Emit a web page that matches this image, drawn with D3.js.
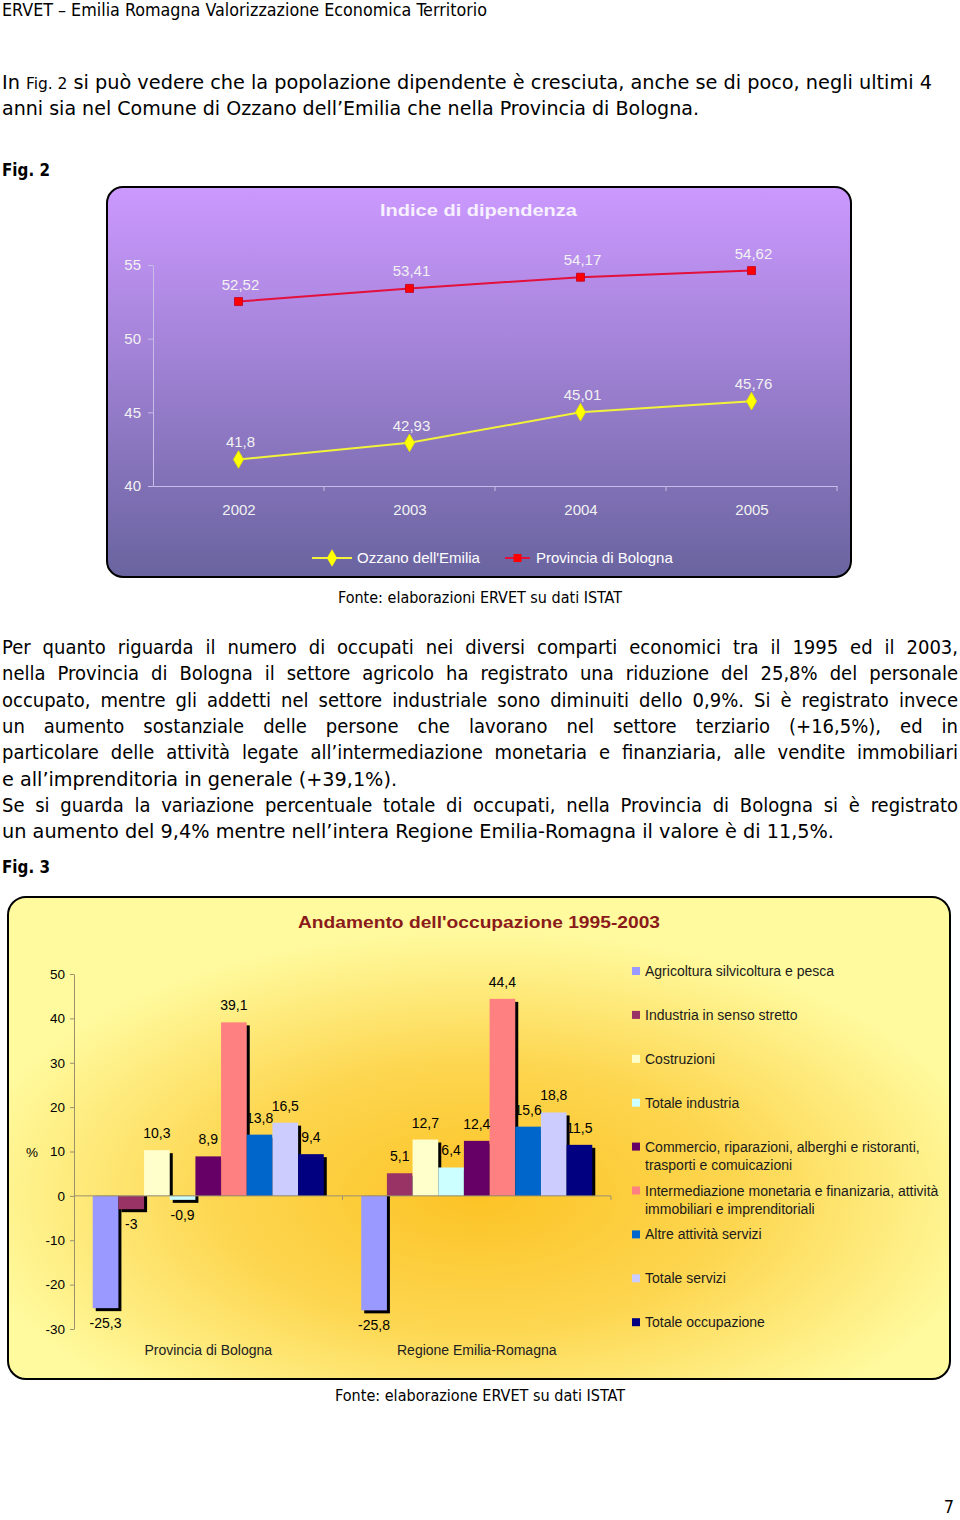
<!DOCTYPE html>
<html>
<head>
<meta charset="utf-8">
<script src="https://cdn.jsdelivr.net/npm/d3@7"></script>
<style>
  body { margin: 0; background: #fff; }
  svg { display: block; }
</style>
</head>
<body>
<div id="page"></div>
<script>
// ---- Fig. 2 data ----
const years = ['2002', '2003', '2004', '2005'];
const ozzano = [41.8, 42.93, 45.01, 45.76];
const provincia = [52.52, 53.41, 54.17, 54.62];
const fig2Ticks = [40, 45, 50, 55];
const fig2Series = ["Ozzano dell'Emilia", 'Provincia di Bologna'];

// ---- Fig. 3 data ----
const areas = ['Provincia di Bologna', 'Regione Emilia-Romagna'];
const sectors = [
  'Agricoltura silvicoltura e pesca',
  'Industria in senso stretto',
  'Costruzioni',
  'Totale industria',
  'Commercio, riparazioni, alberghi e ristoranti,|trasporti e comuicazioni',
  'Intermediazione monetaria e finanizaria, attività|immobiliari e imprenditoriali',
  'Altre attività servizi',
  'Totale servizi',
  'Totale occupazione'
];
const provBologna = [-25.3, -3, 10.3, -0.9, 8.9, 39.1, 13.8, 16.5, 9.4];
const regioneER = [-25.8, 5.1, 12.7, 6.4, 12.4, 44.4, 15.6, 18.8, 11.5];
const sectorColors = ['#9999ff', '#993366', '#ffffcc', '#ccffff', '#660066', '#ff8080', '#0066cc', '#ccccff', '#000080'];
const fig3Ticks = [-30, -20, -10, 0, 10, 20, 30, 40, 50];

// ---- text ----
const header = 'ERVET – Emilia Romagna Valorizzazione Economica Territorio';
const bodyLines = [
  'Per quanto riguarda il numero di occupati nei diversi comparti economici tra il 1995 ed il 2003,',
  'nella Provincia di Bologna il settore agricolo ha registrato una riduzione del 25,8% del personale',
  'occupato, mentre gli addetti nel settore industriale sono diminuiti dello 0,9%. Si è registrato invece',
  'un aumento sostanziale delle persone che lavorano nel settore terziario (+16,5%), ed in',
  'particolare delle attività legate all’intermediazione monetaria e finanziaria, alle vendite immobiliari',
  'e all’imprenditoria in generale (+39,1%).',
  'Se si guarda la variazione percentuale totale di occupati, nella Provincia di Bologna si è registrato',
  'un aumento del 9,4% mentre nell’intera Regione Emilia-Romagna il valore è di 11,5%.'
];

const bodyFont = '"DejaVu Sans Condensed", "DejaVu Sans", sans-serif';
const chartFont = '"Liberation Sans", Arial, sans-serif';
const comma = v => String(v).replace('.', ',');

const svg = d3.select('#page').append('svg')
  .attr('width', 960)
  .attr('height', 1520);

const defs = svg.append('defs');

// write one line of body text, justified or squeezed to the given right edge
function textLine(parts, y, size, end, justify, weight) {
  let t = svg.append('text')
    .attr('x', 2).attr('y', y)
    .attr('font-family', bodyFont)
    .attr('font-stretch', 'condensed')
    .attr('font-size', size)
    .attr('font-weight', weight || 'normal')
    .attr('fill', '#000')
    .attr('xml:space', 'preserve');
  parts.forEach(p => t.append('tspan').attr('font-size', p.size || size).text(p.t));
  let w = t.node().getComputedTextLength();
  let target = end - 2;
  let spaces = parts.map(p => p.t).join('').split(' ').length - 1;
  if (justify && w < target && spaces > 0) {
    t.attr('word-spacing', (target - w) / spaces);
  } else {
    t.attr('textLength', target).attr('lengthAdjust', 'spacingAndGlyphs');
  }
}

textLine([{t: header}], 16, 17, 487, false);
textLine([{t: 'In '}, {t: 'Fig. 2', size: 16}, {t: ' si può vedere che la popolazione dipendente è cresciuta, anche se di poco, negli ultimi 4'}], 89, 20, 932, false);
textLine([{t: 'anni sia nel Comune di Ozzano dell’Emilia che nella Provincia di Bologna.'}], 115, 20, 699, false);
textLine([{t: 'Fig. 2'}], 176, 17, 50, false, 'bold');

const bodyEnds = [958, 958, 958, 958, 958, 397, 958, 834];
bodyLines.forEach((line, i) => {
  textLine([{t: line}], 654 + i * 26.3, 20, bodyEnds[i], bodyEnds[i] === 958);
});
textLine([{t: 'Fig. 3'}], 873, 17, 50, false, 'bold');

function centered(str, cx, y, size, width) {
  svg.append('text')
    .attr('x', cx - width / 2).attr('y', y)
    .attr('font-family', bodyFont)
    .attr('font-stretch', 'condensed')
    .attr('font-size', size)
    .attr('textLength', width)
    .attr('lengthAdjust', 'spacingAndGlyphs')
    .text(str);
}
centered('Fonte: elaborazioni ERVET su dati ISTAT', 480, 603, 16, 284);
centered('Fonte: elaborazione ERVET su dati ISTAT', 480, 1401, 16, 290);

svg.append('text')
  .attr('x', 954).attr('y', 1513)
  .attr('text-anchor', 'end')
  .attr('font-family', bodyFont)
  .attr('font-size', 18)
  .text('7');

// =================== Fig. 2 ===================
const g2grad = defs.append('linearGradient')
  .attr('id', 'violet').attr('x1', 0).attr('y1', 0).attr('x2', 0).attr('y2', 1);
g2grad.append('stop').attr('offset', 0).attr('stop-color', '#cc99ff');
g2grad.append('stop').attr('offset', 1).attr('stop-color', '#69649f');

svg.append('rect')
  .attr('x', 107).attr('y', 187)
  .attr('width', 744).attr('height', 390)
  .attr('rx', 16)
  .attr('fill', 'url(#violet)')
  .attr('stroke', '#000')
  .attr('stroke-width', 2);

svg.append('text')
  .attr('x', 478 - 98).attr('y', 216)
  .attr('font-family', chartFont)
  .attr('font-weight', 'bold')
  .attr('font-size', 17)
  .attr('fill', '#f6f0ff')
  .attr('textLength', 197)
  .attr('lengthAdjust', 'spacingAndGlyphs')
  .text('Indice di dipendenza');

const x2 = d3.scalePoint().domain(years).range([153, 837]).padding(0.5);
const xb2 = d3.scaleBand().domain(years).range([153, 837]);
const y2 = d3.scaleLinear().domain([40, 55]).range([486, 265]);

const axisColor2 = '#c8bde8';
const ay2 = svg.append('g')
  .attr('transform', 'translate(153,0)')
  .call(d3.axisLeft(y2).tickValues(fig2Ticks).tickSize(5).tickSizeOuter(0).tickPadding(7));
const ax2 = svg.append('g')
  .attr('transform', 'translate(0,486)')
  .call(d3.axisBottom(x2).tickSize(0).tickSizeOuter(0).tickPadding(18));
[ay2, ax2].forEach(a => {
  a.selectAll('path, line').attr('stroke', axisColor2);
  a.selectAll('text')
    .attr('font-family', chartFont)
    .attr('font-size', 15)
    .attr('fill', '#f2f2f2');
});
ax2.selectAll('.sep')
  .data(years)
  .join('line')
  .attr('class', 'sep')
  .attr('x1', d => xb2(d) + xb2.bandwidth())
  .attr('x2', d => xb2(d) + xb2.bandwidth())
  .attr('y1', 0).attr('y2', 5)
  .attr('stroke', axisColor2);

const line2 = d3.line()
  .x((d, i) => x2(years[i]))
  .y(d => y2(d));

const series2 = [
  {name: fig2Series[0], values: ozzano, color: '#f2f23a', marker: d3.symbolDiamond, fill: '#ffff00', size: 90},
  {name: fig2Series[1], values: provincia, color: '#e3103c', marker: d3.symbolSquare, fill: '#ff0000', size: 64}
];

series2.forEach(s => {
  svg.append('path')
    .attr('d', line2(s.values))
    .attr('fill', 'none')
    .attr('stroke', s.color)
    .attr('stroke-width', 2);
  svg.selectAll(null)
    .data(s.values)
    .join('path')
    .attr('transform', (d, i) => `translate(${x2(years[i])},${y2(d)})`)
    .attr('d', d3.symbol(s.marker, s.size))
    .attr('fill', s.fill)
    .attr('stroke', s.marker === d3.symbolSquare ? '#c00020' : '#e0e000')
    .attr('stroke-width', 0.8);
  svg.selectAll(null)
    .data(s.values)
    .join('text')
    .attr('x', (d, i) => x2(years[i]) + 2)
    .attr('y', d => y2(d) - 12)
    .attr('text-anchor', 'middle')
    .attr('font-family', chartFont)
    .attr('font-size', 15)
    .attr('fill', '#f2f2f2')
    .text(d => comma(d));
});

// legend fig 2
const leg2 = [
  {s: series2[0], x1: 312, x2: 352, tx: 357},
  {s: series2[1], x1: 505, x2: 530, tx: 536}
];
leg2.forEach(l => {
  svg.append('line')
    .attr('x1', l.x1).attr('x2', l.x2)
    .attr('y1', 558).attr('y2', 558)
    .attr('stroke', l.s.color).attr('stroke-width', 2);
  svg.append('path')
    .attr('transform', `translate(${(l.x1 + l.x2) / 2},558)`)
    .attr('d', d3.symbol(l.s.marker, l.s.size))
    .attr('fill', l.s.fill);
  svg.append('text')
    .attr('x', l.tx).attr('y', 563)
    .attr('font-family', chartFont)
    .attr('font-size', 15)
    .attr('fill', '#ffffff')
    .text(l.s.name);
});

// =================== Fig. 3 ===================
const g3grad = defs.append('radialGradient')
  .attr('id', 'sun').attr('cx', 0.5).attr('cy', 0.62).attr('r', 0.55);
g3grad.append('stop').attr('offset', 0).attr('stop-color', '#fcc325');
g3grad.append('stop').attr('offset', 0.5).attr('stop-color', '#fdd650');
g3grad.append('stop').attr('offset', 1).attr('stop-color', '#fffa9e');

svg.append('rect')
  .attr('x', 8).attr('y', 897)
  .attr('width', 942).attr('height', 482)
  .attr('rx', 18)
  .attr('fill', 'url(#sun)')
  .attr('stroke', '#000')
  .attr('stroke-width', 2);

svg.append('text')
  .attr('x', 479 - 181).attr('y', 928)
  .attr('font-family', chartFont)
  .attr('font-weight', 'bold')
  .attr('font-size', 17)
  .attr('fill', '#8b1a1a')
  .attr('textLength', 362)
  .attr('lengthAdjust', 'spacingAndGlyphs')
  .text("Andamento dell'occupazione 1995-2003");

const x3 = d3.scaleBand().domain(areas).range([74, 611]);
const x3in = d3.scaleBand().domain(sectors).range([0, x3.bandwidth()]).paddingInner(0).paddingOuter(0.73);
const y3 = d3.scaleLinear().domain([-30, 50]).range([1329, 974]);

const ay3 = svg.append('g')
  .attr('transform', 'translate(74,0)')
  .call(d3.axisLeft(y3).tickValues(fig3Ticks).tickFormat(d => String(d))
    .tickSize(4).tickSizeOuter(0).tickPadding(5));
ay3.selectAll('path, line').attr('stroke', '#9a9070');
ay3.selectAll('text')
  .attr('font-family', chartFont)
  .attr('font-size', 13.5)
  .attr('fill', '#000');

svg.append('text')
  .attr('x', 32).attr('y', 1157)
  .attr('text-anchor', 'middle')
  .attr('font-family', chartFont)
  .attr('font-size', 13.5)
  .text('%');

const groupValues = [provBologna, regioneER];
const bars = [];
areas.forEach((a, gi) => {
  sectors.forEach((s, si) => {
    bars.push({area: a, sector: s, value: groupValues[gi][si], color: sectorColors[si]});
  });
});

const shadow = 3;
const barG = svg.selectAll('.bar')
  .data(bars)
  .join('g')
  .attr('class', 'bar')
  .attr('transform', d => `translate(${x3(d.area) + x3in(d.sector)},0)`);

barG.append('rect')
  .attr('x', shadow)
  .attr('y', d => d.value >= 0 ? y3(d.value) + shadow : y3(0))
  .attr('width', x3in.bandwidth())
  .attr('height', d => d.value >= 0 ? Math.max(0, y3(0) - y3(d.value) - shadow) : y3(d.value) - y3(0) + shadow)
  .attr('fill', '#000');

barG.append('rect')
  .attr('x', 0)
  .attr('y', d => y3(Math.max(0, d.value)))
  .attr('width', x3in.bandwidth())
  .attr('height', d => Math.abs(y3(d.value) - y3(0)))
  .attr('fill', d => d.color);

// zero line and category ticks
svg.append('line')
  .attr('x1', 74).attr('x2', 611)
  .attr('y1', y3(0)).attr('y2', y3(0))
  .attr('stroke', '#9a9070');
svg.selectAll('.catTick')
  .data(areas)
  .join('line')
  .attr('class', 'catTick')
  .attr('x1', d => x3(d) + x3.bandwidth())
  .attr('x2', d => x3(d) + x3.bandwidth())
  .attr('y1', y3(0)).attr('y2', y3(0) + 4)
  .attr('stroke', '#9a9070');

// value labels
svg.selectAll('.vlab')
  .data(bars)
  .join('text')
  .attr('class', 'vlab')
  .attr('x', d => x3(d.area) + x3in(d.sector) + x3in.bandwidth() / 2)
  .attr('y', d => d.value >= 0 ? y3(d.value) - 12 : y3(d.value) + 20)
  .attr('text-anchor', 'middle')
  .attr('font-family', chartFont)
  .attr('font-size', 14)
  .attr('fill', '#000')
  .text(d => comma(d.value));

// category labels
svg.selectAll('.catLab')
  .data(areas)
  .join('text')
  .attr('class', 'catLab')
  .attr('x', d => x3(d) + x3.bandwidth() / 2)
  .attr('y', 1355)
  .attr('text-anchor', 'middle')
  .attr('font-family', chartFont)
  .attr('font-size', 14)
  .attr('fill', '#222')
  .text(d => d);

// legend fig 3
const leg3 = svg.selectAll('.leg3')
  .data(sectors)
  .join('g')
  .attr('class', 'leg3')
  .attr('transform', (d, i) => `translate(632,${971 + i * 43.9})`);
leg3.append('rect')
  .attr('x', 0).attr('y', -4)
  .attr('width', 8).attr('height', 8)
  .attr('fill', (d, i) => sectorColors[i]);
leg3.each(function(d) {
  let t = d3.select(this).append('text')
    .attr('font-family', chartFont)
    .attr('font-size', 14)
    .attr('fill', '#1a1a1a');
  d.split('|').forEach((part, k) => {
    t.append('tspan').attr('x', 13).attr('y', 5 + k * 18).text(part);
  });
});
</script>
</body>
</html>
